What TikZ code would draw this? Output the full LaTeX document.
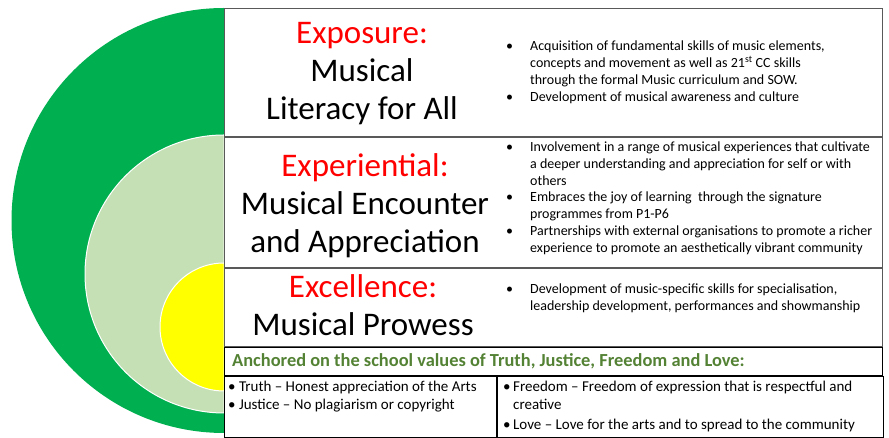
\documentclass[tikz,border=0pt]{standalone}
\usepackage{fontspec}
\setmainfont{Carlito}
\usepackage{xcolor}
\usetikzlibrary{positioning}
\definecolor{ringGreen}{HTML}{00B050}
\definecolor{ringLight}{HTML}{C5E0B4}
\definecolor{ringYellow}{HTML}{FFFF00}
\definecolor{titleRed}{HTML}{FF0000}
\definecolor{valueGreen}{HTML}{548235}
\definecolor{rowLine}{HTML}{595959}
\newcommand{\bl}{\textbullet}

\begin{document}
\begin{tikzpicture}[
  x=1pt,y=1pt,
  ring/.style={fill=#1,draw=white,line width=1pt},
  row/.style={draw=rowLine,line width=1pt,minimum width=658pt,anchor=north west,inner sep=0pt},
  valbox/.style={draw=black,line width=1pt,anchor=north west,inner sep=0pt},
  title/.style={align=center,inner sep=0pt,font=\fontsize{33}{38}\selectfont},
  bullets/.style={anchor=west,inner sep=0pt,font=\fontsize{14}{16.8}\selectfont},
  values/.style={anchor=north west,inner sep=0pt,font=\fontsize{15}{18}\selectfont}
]
  \useasboundingbox (0,0) rectangle (889,438);
  \fill[ringGreen] (224,430) arc[start angle=90,end angle=270,radius=212.5] -- cycle;
  \path[ring=ringLight] (224,303) arc[start angle=90,end angle=270,radius=139] -- cycle;
  \path[ring=ringYellow] (224,175) arc[start angle=90,end angle=270,radius=64] -- cycle;

  \node[row,minimum height=128pt] (expo) at (224,430) {};
  \node[row,minimum height=130pt] (expe) at (expo.south west) {};
  \node[row,minimum height=78pt] (exce) at (expe.south west) {};
  \node[title] (expoT) at ([xshift=138pt,yshift=-1pt]expo.west) {{\color{titleRed}Exposure:}\\Musical\\Literacy for All};
  \node[title] (expeT) at ([xshift=141pt,yshift=-3pt]expe.west) {{\color{titleRed}Experiential:}\\Musical Encounter\\and Appreciation};
  \node[title] (exceT) at ([xshift=139pt,yshift=2pt]exce.west) {{\color{titleRed}Excellence:}\\Musical Prowess};

  \node[bullets] (expoB) at ([xshift=282pt]expo.west) {\begin{tabular}{@{}p{24pt}@{}l@{}}
    \bl & Acquisition of fundamental skills of music elements,\\
        & concepts and movement as well as 21\textsuperscript{st} CC skills\\
        & through the formal Music curriculum and SOW.\\
    \bl & Development of musical awareness and culture
  \end{tabular}};
  \node[bullets] (expeB) at ([xshift=282pt,yshift=4pt]expe.west) {\begin{tabular}{@{}p{24pt}@{}l@{}}
    \bl & Involvement in a range of musical experiences that cultivate\\
        & a deeper understanding and appreciation for self or with\\
        & others\\
    \bl & Embraces the joy of learning\ \ through the signature\\
        & programmes from P1-P6\\
    \bl & Partnerships with external organisations to promote a richer\\
        & experience to promote an aesthetically vibrant community
  \end{tabular}};
  \node[bullets] (exceB) at ([xshift=282pt,yshift=9pt]exce.west) {\begin{tabular}{@{}p{24pt}@{}l@{}}
    \bl & Development of music-specific skills for specialisation,\\
        & leadership development, performances and showmanship
  \end{tabular}};

  \node[valbox,minimum width=658pt,minimum height=28pt] (anch) at (exce.south west) {};
  \node[valbox,minimum width=272pt,minimum height=61pt] (truth) at (anch.south west) {};
  \node[valbox,minimum width=386pt,minimum height=61pt] (free) at (truth.north east) {};
  \node[anchor=west,inner sep=0pt,text=valueGreen,font=\fontsize{18.4}{20}\selectfont\bfseries] (anchT) at ([xshift=8pt]anch.west) {Anchored on the school values of Truth, Justice, Freedom and Love:};
  \node[values] (truthT) at ([xshift=4pt,yshift=-3pt]truth.north west) {\begin{tabular}{@{}l@{}}
    \bl\ Truth -- Honest appreciation of the Arts\\
    \bl\ Justice -- No plagiarism or copyright
  \end{tabular}};
  \node[values] (freeT) at ([xshift=6pt,yshift=-3pt]free.north west) {\begin{tabular}{@{}p{10pt}@{}l@{}}
    \bl & Freedom -- Freedom of expression that is respectful and\\
        & creative\\[2pt]
    \bl & Love -- Love for the arts and to spread to the community
  \end{tabular}};
\end{tikzpicture}
\end{document}
